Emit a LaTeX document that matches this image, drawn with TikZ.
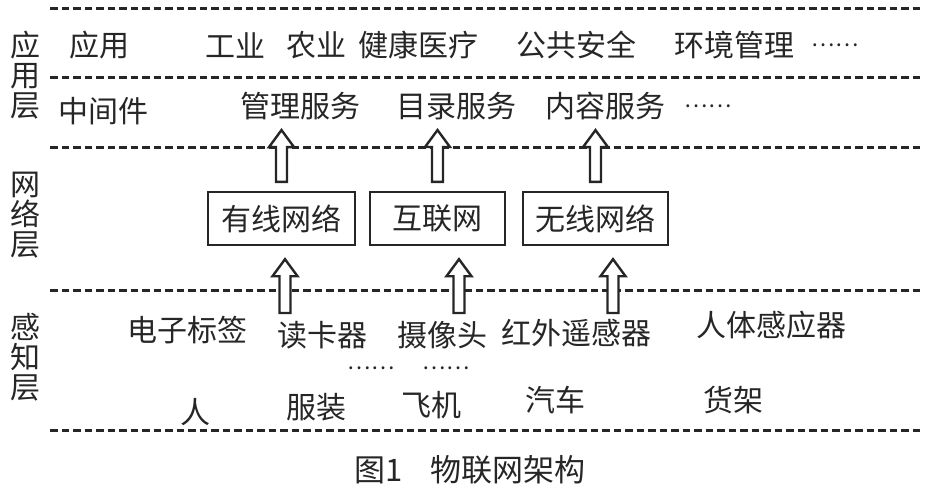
\documentclass[tikz,border=0pt]{standalone}
\usepackage{fontspec}
\newfontfamily\cjk{Noto Sans CJK SC}
\usetikzlibrary{calc}
\definecolor{ink}{HTML}{262626}

\tikzset{
  layer line/.style={ink, line width=3pt, dash pattern=on 7.5pt off 4pt},
  lbl/.style={font=\cjk\fontsize{30}{30}\selectfont, text=ink, inner sep=0pt},
  dots/.style={font=\cjk\fontsize{22}{22}\selectfont, text=ink, inner sep=0pt},
  side/.style={lbl, align=center},
  netbox/.style={lbl, draw=ink, line width=2.4pt, minimum height=53pt},
  hollow/.style={draw=ink, line width=2.4pt, fill=white, line join=miter},
}

% hollow block arrow, drawn upwards at the x of the first point
\newcommand\blockup[2]{%
  \draw[hollow] let \p1=(#1), \p2=(#2) in
    (\x1-5.5pt,\y1) -- (\x1-5.5pt,\y2-17pt) -- (\x1-12.5pt,\y2-17pt)
    -- (\x1,\y2) -- (\x1+12.5pt,\y2-17pt) -- (\x1+5.5pt,\y2-17pt)
    -- (\x1+5.5pt,\y1) -- cycle;}

\begin{document}
\begin{tikzpicture}[x=1pt, y=-1pt]
\useasboundingbox (0,0) rectangle (931,490);

% layer borders
\foreach \ly in {8,77,147,290,430}
  \draw[layer line] (50,\ly) -- (920,\ly);

% layer names
\node[side] (appL) at (25,75) {应\\用\\层};
\node[side] (netL) at (25,215) {网\\络\\层};
\node[side] (senseL) at (25,357) {感\\知\\层};

% application row
\node[lbl] (app) at (99,45) {应用};
\node[lbl] (ind) at (235,45) {工业};
\node[lbl] (agr) at (316,45) {农业};
\node[lbl] (med) at (418,45) {健康医疗};
\node[lbl] (sec) at (576,45) {公共安全};
\node[lbl] (env) at (734,45) {环境管理};
\node[dots] (appdots) at (835,45) {……};

% middleware row
\node[lbl] (mid) at (103,111) {中间件};
\node[lbl] (mgmt) at (300,106) {管理服务};
\node[lbl] (dir) at (456,106) {目录服务};
\node[lbl] (cont) at (605,106) {内容服务};
\node[dots] (middots) at (708,106) {……};

% networks
\node[netbox, minimum width=147pt] (wired) at (281.5,218.5) {有线网络};
\node[netbox, minimum width=135pt] (inet) at (437.5,218.5) {互联网};
\node[netbox, minimum width=145pt] (wless) at (595.5,218.5) {无线网络};

% arrows network -> middleware
\blockup{[yshift=9pt]wired.north}{[yshift=-10pt]mgmt.south}
\blockup{[yshift=9pt]inet.north}{[yshift=-10pt]dir.south}
\blockup{[yshift=9pt]wless.north}{[yshift=-10pt]cont.south}

% arrows sensing -> network
\coordinate (in1) at (285,313);
\coordinate (in2) at (459,313);
\coordinate (in3) at (613,313);
\blockup{in1}{[yshift=-13pt]wired.south}
\blockup{in2}{[yshift=-13pt]inet.south}
\blockup{in3}{[yshift=-13pt]wless.south}

% sensing devices
\node[lbl] (tag) at (187,330) {电子标签};
\node[lbl] (reader) at (322,335) {读卡器};
\node[lbl] (cam) at (442,335) {摄像头};
\node[lbl] (ir) at (576,333) {红外遥感器};
\node[lbl] (body) at (771,325) {人体感应器};
\node[dots] (devdots1) at (371,368) {……};
\node[dots] (devdots2) at (446,368) {……};

% things
\node[lbl] (person) at (195,412) {人};
\node[lbl] (cloth) at (316,407) {服装};
\node[lbl] (plane) at (431,405) {飞机};
\node[lbl] (car) at (555,400) {汽车};
\node[lbl] (shelf) at (733,400) {货架};

% caption
\node[lbl, font=\cjk\fontsize{31}{31}\selectfont] (cap) at (470,470) {图1\hspace{28pt}物联网架构};
\end{tikzpicture}
\end{document}
